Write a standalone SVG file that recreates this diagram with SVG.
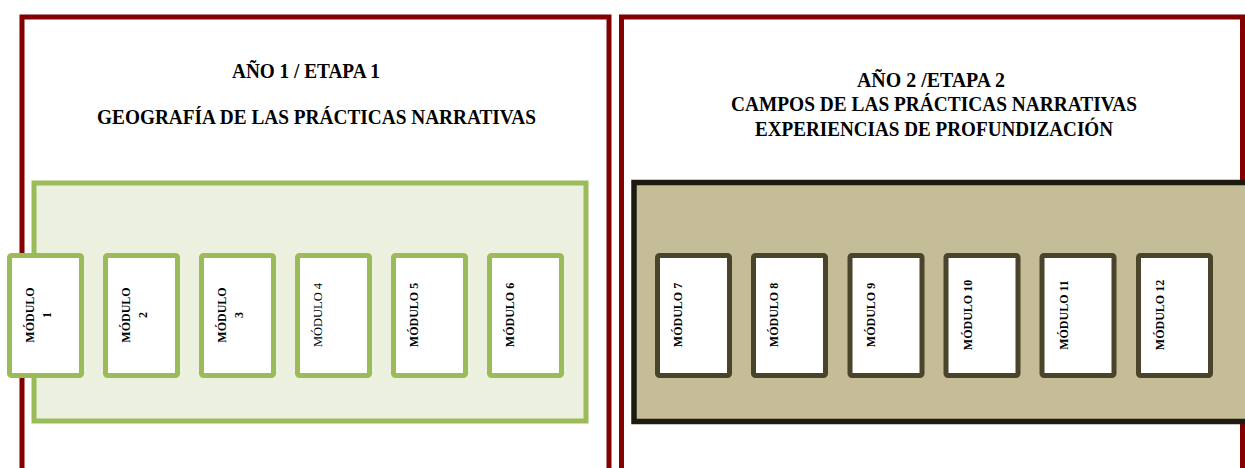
<svg xmlns="http://www.w3.org/2000/svg" width="1245" height="468" viewBox="0 0 1245 468">
<style>
.stage{fill:#ffffff;stroke:#840000;stroke-width:5}
.gpanel{fill:#EBF1DE;stroke:#9BBB59;stroke-width:5}
.bpanel{fill:#C4BD97;stroke:#1D1B10;stroke-width:5.5}
.gmod{fill:#ffffff;stroke:#9BBB59;stroke-width:5}
.bmod{fill:#ffffff;stroke:#4A452A;stroke-width:5}
.h{font-family:"Liberation Serif","Times New Roman",serif;font-weight:bold;font-size:20px;fill:#000;text-anchor:middle}
.m{font-family:"Liberation Serif","Times New Roman",serif;font-weight:bold;font-size:12px;fill:#000;text-anchor:middle}
.mr{font-family:"Liberation Serif","Times New Roman",serif;font-weight:normal;font-size:12.5px;fill:#000;text-anchor:middle}
</style>
<rect width="1245" height="468" fill="#ffffff"/>
<g id="etapa1">
<rect class="stage" x="22" y="17" width="587" height="480"/>
<text class="h" x="306" y="78" textLength="148" lengthAdjust="spacingAndGlyphs">AÑO 1 / ETAPA 1</text>
<text class="h" x="316.5" y="124" textLength="439" lengthAdjust="spacingAndGlyphs">GEOGRAFÍA DE LAS PRÁCTICAS NARRATIVAS</text>
</g>
<g id="etapa2">
<rect class="stage" x="621.5" y="17" width="621" height="480"/>
<text class="h" x="931" y="87" textLength="148" lengthAdjust="spacingAndGlyphs">AÑO 2 /ETAPA 2</text>
<text class="h" x="934" y="111" textLength="406" lengthAdjust="spacingAndGlyphs">CAMPOS DE LAS PRÁCTICAS NARRATIVAS</text>
<text class="h" x="934" y="136" textLength="358" lengthAdjust="spacingAndGlyphs">EXPERIENCIAS DE PROFUNDIZACIÓN</text>
</g>
<g id="panel1"><rect class="gpanel" x="34" y="183" width="552" height="238"/></g>
<g id="panel2"><rect class="bpanel" x="634" y="182.5" width="620" height="239"/></g>
<g id="connectors"></g>
<g id="modulo1"><rect class="gmod" x="9.5" y="255.5" width="72" height="120" rx="2"/>
<text class="m" transform="translate(34,315) rotate(-90)">MÓDULO</text>
<text class="m" transform="translate(50.5,315) rotate(-90)">1</text></g>
<g id="modulo2"><rect class="gmod" x="105.5" y="255.5" width="72" height="120" rx="2"/>
<text class="m" transform="translate(130,315) rotate(-90)">MÓDULO</text>
<text class="m" transform="translate(146.5,315) rotate(-90)">2</text></g>
<g id="modulo3"><rect class="gmod" x="201.5" y="255.5" width="72" height="120" rx="2"/>
<text class="m" transform="translate(226,315) rotate(-90)">MÓDULO</text>
<text class="m" transform="translate(242.5,315) rotate(-90)">3</text></g>
<g id="modulo4"><rect class="gmod" x="297.5" y="255.5" width="72" height="120" rx="2"/>
<text class="mr" transform="translate(322,315) rotate(-90)">MÓDULO 4</text></g>
<g id="modulo5"><rect class="gmod" x="393.5" y="255.5" width="72" height="120" rx="2"/>
<text class="m" transform="translate(418,315) rotate(-90)">MÓDULO 5</text></g>
<g id="modulo6"><rect class="gmod" x="489.5" y="255.5" width="72" height="120" rx="2"/>
<text class="m" transform="translate(514,315) rotate(-90)">MÓDULO 6</text></g>
<g id="modulo7"><rect class="bmod" x="657.5" y="255.5" width="72" height="120" rx="2"/>
<text class="m" transform="translate(682,315) rotate(-90)">MÓDULO 7</text></g>
<g id="modulo8"><rect class="bmod" x="753.5" y="255.5" width="72" height="120" rx="2"/>
<text class="m" transform="translate(778,315) rotate(-90)">MÓDULO 8</text></g>
<g id="modulo9"><rect class="bmod" x="850" y="255.5" width="72" height="120" rx="2"/>
<text class="m" transform="translate(874.5,315) rotate(-90)">MÓDULO 9</text></g>
<g id="modulo10"><rect class="bmod" x="946" y="255.5" width="72" height="120" rx="2"/>
<text class="m" transform="translate(971.5,315) rotate(-90)">MÓDULO 10</text></g>
<g id="modulo11"><rect class="bmod" x="1042" y="255.5" width="72" height="120" rx="2"/>
<text class="m" transform="translate(1067.5,315) rotate(-90)">MÓDULO 11</text></g>
<g id="modulo12"><rect class="bmod" x="1138.5" y="255.5" width="72" height="120" rx="2"/>
<text class="m" transform="translate(1164,315) rotate(-90)">MÓDULO 12</text></g>
</svg>
